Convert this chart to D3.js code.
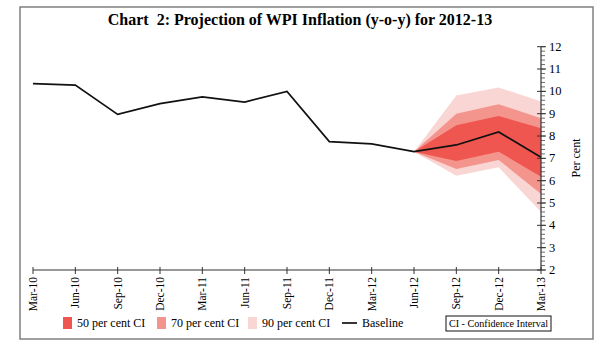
<!DOCTYPE html>
<html>
<head>
<meta charset="utf-8">
<script src="https://cdn.jsdelivr.net/npm/d3@7"></script>
<style>
  body { margin: 0; background: #fff; }
  svg { display: block; font-family: "Liberation Serif", "Times New Roman", serif; }
</style>
</head>
<body>
<svg id="chart" width="600" height="344"></svg>
<script>
const quarters = ['Mar-10', 'Jun-10', 'Sep-10', 'Dec-10', 'Mar-11', 'Jun-11', 'Sep-11',
  'Dec-11', 'Mar-12', 'Jun-12', 'Sep-12', 'Dec-12', 'Mar-13'];
const baseline = [10.35, 10.28, 8.97, 9.45, 9.75, 9.52, 10.0, 7.75, 7.65, 7.3, 7.6, 8.18, 7.05];

// fan starts at Jun-12
const fanQuarters = ['Jun-12', 'Sep-12', 'Dec-12', 'Mar-13'];
const ci90Low = [7.3, 6.22, 6.6, 4.6];
const ci90High = [7.3, 9.82, 10.17, 9.55];
const ci70Low = [7.3, 6.52, 6.93, 5.4];
const ci70High = [7.3, 9.0, 9.42, 8.8];
const ci50Low = [7.3, 6.88, 7.3, 6.18];
const ci50High = [7.3, 8.48, 8.9, 8.35];

const yTicks = [2, 3, 4, 5, 6, 7, 8, 9, 10, 11, 12];

const svg = d3.select('#chart');

// outer frame
svg.append('rect')
  .attr('x', 20).attr('y', 7)
  .attr('width', 573).attr('height', 332)
  .attr('fill', 'none')
  .attr('stroke', '#808080')
  .attr('stroke-width', 1.5);

svg.append('text')
  .attr('x', 300).attr('y', 25)
  .attr('text-anchor', 'middle')
  .style('font-size', '16px')
  .style('font-weight', 'bold')
  .style('white-space', 'pre')
  .text('Chart  2: Projection of WPI Inflation (y-o-y) for 2012-13');

const x = d3.scalePoint().domain(quarters).range([33, 541]);
const y = d3.scaleLinear().domain([2, 12]).range([270, 46.7]);

const bands = [
  { lo: ci90Low, hi: ci90High, color: '#f9d6d3' },
  { lo: ci70Low, hi: ci70High, color: '#f4958d' },
  { lo: ci50Low, hi: ci50High, color: '#ef5650' }
];

const area = d3.area()
  .x((d, i) => x(fanQuarters[i]))
  .y0(d => y(d[0]))
  .y1(d => y(d[1]));

bands.forEach(b => {
  svg.append('path')
    .datum(b.lo.map((v, i) => [v, b.hi[i]]))
    .attr('fill', b.color)
    .attr('d', area);
});

const line = d3.line()
  .x((d, i) => x(quarters[i]))
  .y(d => y(d));

svg.append('path')
  .datum(baseline)
  .attr('fill', 'none')
  .attr('stroke', '#111')
  .attr('stroke-width', 1.7)
  .attr('d', line);

// x axis
const xAxis = svg.append('g').attr('transform', 'translate(0,270)');
xAxis.append('line')
  .attr('x1', 33).attr('x2', 541)
  .attr('stroke', '#333').attr('stroke-width', 1.2);
xAxis.selectAll('.xt')
  .data(quarters)
  .join('line')
  .attr('x1', d => x(d)).attr('x2', d => x(d))
  .attr('y1', -3).attr('y2', 4)
  .attr('stroke', '#333');
xAxis.selectAll('.xl')
  .data(quarters)
  .join('text')
  .attr('transform', d => `translate(${x(d) + 4},7) rotate(-90)`)
  .attr('text-anchor', 'end')
  .style('font-size', '11.5px')
  .text(d => d);

// y axis on the right
const yAxis = svg.append('g').attr('transform', 'translate(541,0)');
yAxis.append('line')
  .attr('y1', y(2)).attr('y2', y(12))
  .attr('stroke', '#333').attr('stroke-width', 1.2);
yAxis.selectAll('.minor')
  .data(d3.range(2, 12.001, 0.2))
  .join('line')
  .attr('y1', d => y(d)).attr('y2', d => y(d))
  .attr('x1', 0).attr('x2', 4)
  .attr('stroke', '#444').attr('stroke-width', 0.8);
yAxis.selectAll('.major')
  .data(yTicks)
  .join('line')
  .attr('y1', d => y(d)).attr('y2', d => y(d))
  .attr('x1', -4).attr('x2', 5)
  .attr('stroke', '#333');
yAxis.selectAll('.yl')
  .data(yTicks)
  .join('text')
  .attr('x', 8)
  .attr('y', d => y(d) + 4)
  .style('font-size', '12.5px')
  .text(d => d);

svg.append('text')
  .attr('transform', 'translate(580,158) rotate(-90)')
  .attr('text-anchor', 'middle')
  .style('font-size', '12px')
  .text('Per cent');

// legend
const legend = svg.append('g').attr('transform', 'translate(0,323)');
const legendItems = [
  { label: '50 per cent CI', color: '#ef5650', x: 63 },
  { label: '70 per cent CI', color: '#f4958d', x: 157 },
  { label: '90 per cent CI', color: '#f9d6d3', x: 248 }
];
legendItems.forEach(it => {
  legend.append('rect')
    .attr('x', it.x).attr('y', -6)
    .attr('width', 9).attr('height', 12)
    .attr('fill', it.color);
  legend.append('text')
    .attr('x', it.x + 14).attr('y', 4)
    .style('font-size', '12px')
    .text(it.label);
});
legend.append('line')
  .attr('x1', 342).attr('x2', 357)
  .attr('stroke', '#111').attr('stroke-width', 1.7);
legend.append('text')
  .attr('x', 362).attr('y', 4)
  .style('font-size', '12px')
  .text('Baseline');
legend.append('rect')
  .attr('x', 446).attr('y', -7)
  .attr('width', 105).attr('height', 15)
  .attr('fill', 'none')
  .attr('stroke', '#111');
legend.append('text')
  .attr('x', 449).attr('y', 4)
  .attr('textLength', 99)
  .attr('lengthAdjust', 'spacingAndGlyphs')
  .style('font-size', '11px')
  .text('CI - Confidence Interval');
</script>
</body>
</html>
